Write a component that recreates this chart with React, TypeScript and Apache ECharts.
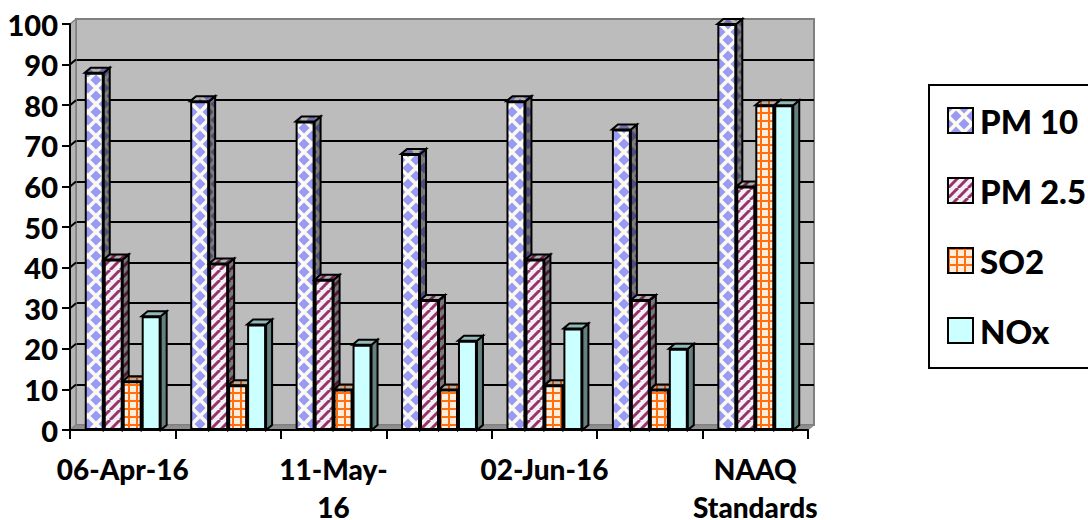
import React, { useEffect, useRef } from "react";
import * as echarts from "echarts";

const categories = ["06-Apr-16", "", "11-May-\n16", "", "02-Jun-16", "", "NAAQ\nStandards"];
const pm10 = [88, 81, 76, 68, 81, 74, 100];
const pm25 = [42, 41, 37, 32, 42, 32, 60];
const so2 = [12, 11, 10, 10, 11, 10, 80];
const nox = [28, 26, 21, 22, 25, 20, 80];
const seriesNames = ["PM 10", "PM 2.5", "SO2", "NOx"];
const seriesValues = [pm10, pm25, so2, nox];
const yTicks = { min: 0, max: 100, interval: 10 };

const FONT = "Lato";
const DX = 6;
const DY = 5;
const GAP = 0.28;

function shade(hex: string, k: number) {
  const n = parseInt(hex.slice(1), 16);
  const c = [(n >> 16) & 255, (n >> 8) & 255, n & 255].map((v) => Math.round(v * k));
  return `rgb(${c[0]},${c[1]},${c[2]})`;
}

function makePattern(kind: number, k: number) {
  const size = kind === 0 ? 16 : kind === 1 ? 10 : kind === 2 ? 8 : 4;
  const cv = document.createElement("canvas");
  cv.width = size;
  cv.height = size;
  const g = cv.getContext("2d")!;
  if (kind === 0) {
    g.fillStyle = shade("#fbfbf0", k);
    g.fillRect(0, 0, size, size);
    g.fillStyle = shade("#9a9af5", k);
    const diamond = (x: number, y: number, r: number) => {
      g.beginPath();
      g.moveTo(x - r, y);
      g.lineTo(x, y - r);
      g.lineTo(x + r, y);
      g.lineTo(x, y + r);
      g.closePath();
      g.fill();
    };
    diamond(8, 8, 5.5);
    [0, 16].forEach((x) => [0, 16].forEach((y) => diamond(x, y, 5.5)));
  } else if (kind === 1) {
    g.fillStyle = shade("#f0f0f6", k);
    g.fillRect(0, 0, size, size);
    g.strokeStyle = shade("#993366", k);
    g.lineWidth = 3;
    [-10, 0, 10, 20].forEach((o) => {
      g.beginPath();
      g.moveTo(o, 10);
      g.lineTo(o + 10, 0);
      g.stroke();
    });
  } else if (kind === 2) {
    g.fillStyle = shade("#ffeedd", k);
    g.fillRect(0, 0, size, size);
    g.fillStyle = shade("#ff7010", k);
    g.fillRect(0, 0, size, 2);
    g.fillRect(0, 0, 2, size);
  } else {
    g.fillStyle = shade("#ccffff", k);
    g.fillRect(0, 0, size, size);
  }
  return { image: cv, repeat: "repeat", imageWidth: size, imageHeight: size };
}

export default function App() {
  const ref = useRef<HTMLDivElement>(null);
  useEffect(() => {
    const chart = echarts.init(ref.current!, null, { renderer: "svg" });
    const series: any[] = [];

    series.push({
      type: "custom",
      name: "walls",
      silent: true,
      xAxisIndex: 0,
      yAxisIndex: 0,
      z: 1,
      data: [[0, 0]],
      renderItem: (params: any, api: any) => {
        const cs = params.coordSys;
        const bottom = cs.y + cs.height;
        const right = cs.x + cs.width;
        const children: any[] = [
          {
            type: "polygon",
            shape: { points: [[cs.x, bottom], [cs.x + DX, bottom - DY], [cs.x + DX, cs.y - DY], [cs.x, cs.y]] },
            style: { fill: "#b4b4b4", stroke: "#808080", lineWidth: 1.5 },
          },
          {
            type: "polygon",
            shape: { points: [[cs.x, bottom], [right, bottom], [right + DX, bottom - DY], [cs.x + DX, bottom - DY]] },
            style: { fill: "#8e8e8e", stroke: "#808080", lineWidth: 1 },
          },
        ];
        for (let v = yTicks.min + yTicks.interval; v <= yTicks.max - yTicks.interval; v += yTicks.interval) {
          const y = api.coord([0, v])[1];
          children.push({
            type: "line",
            shape: { x1: cs.x, y1: y, x2: cs.x + DX, y2: y - DY },
            style: { stroke: "#000", lineWidth: 2 },
          });
        }
        return { type: "group", children };
      },
    });

    seriesNames.forEach((name, s) => {
      const sideFill = makePattern(s, 0.5);
      const topFill = makePattern(s, 0.72);
      series.push({
        type: "custom",
        name: name + " depth",
        silent: true,
        xAxisIndex: 0,
        yAxisIndex: 0,
        z: 2 + s * 2,
        data: seriesValues[s].map((v, i) => [i, v]),
        encode: { x: 0, y: 1 },
        renderItem: (_p: any, api: any) => {
          const base = api.coord([api.value(0), 0]);
          const y = api.coord([api.value(0), api.value(1)])[1];
          const band = api.size([1, 0])[0];
          const w = (band * (1 - GAP)) / 4;
          const x = base[0] - 2 * w + s * w;
          const line = { stroke: "#000", lineWidth: 2, lineJoin: "miter" };
          return {
            type: "group",
            children: [
              {
                type: "polygon",
                shape: { points: [[x + w, y], [x + w + DX, y - DY], [x + w + DX, base[1] - DY], [x + w, base[1]]] },
                style: { fill: sideFill, ...line },
              },
              {
                type: "polygon",
                shape: { points: [[x, y], [x + DX, y - DY], [x + w + DX, y - DY], [x + w, y]] },
                style: { fill: topFill, ...line },
              },
            ],
          };
        },
      });
      series.push({
        type: "bar",
        name,
        xAxisIndex: 0,
        yAxisIndex: 0,
        z: 3 + s * 2,
        barGap: 0,
        barCategoryGap: GAP * 100 + "%",
        data: seriesValues[s],
        itemStyle: { color: makePattern(s, 1), borderColor: "#000", borderWidth: 2 },
      });
    });

    const labelStyle = { fontFamily: FONT, fontWeight: 900, color: "#000" };
    chart.setOption({
      animation: false,
      backgroundColor: "#fff",
      legend: {
        orient: "vertical",
        left: 929,
        top: 85,
        padding: [19, 20, 21, 18],
        itemGap: 37,
        itemWidth: 25,
        itemHeight: 25,
        icon: "rect",
        borderColor: "#000",
        borderWidth: 2,
        data: seriesNames,
        textStyle: { ...labelStyle, fontSize: 33, lineHeight: 25, padding: [0, 0, 0, 2] },
      },
      grid: [
        { left: 70, top: 24, width: 738, height: 406, outerBoundsMode: "none" },
        {
          left: 76,
          top: 19,
          width: 738,
          height: 406,
          outerBoundsMode: "none",
          show: true,
          backgroundColor: "#bcbcbc",
          borderColor: "#808080",
          borderWidth: 2,
        },
      ],
      xAxis: [
        {
          type: "category",
          gridIndex: 0,
          data: categories,
          z: 30,
          axisLine: { lineStyle: { color: "#000", width: 2 } },
          axisTick: { show: true, length: 9, alignWithLabel: false, lineStyle: { color: "#000", width: 2 } },
          axisLabel: {
            ...labelStyle,
            fontSize: 28,
            interval: 0,
            margin: 15,
            formatter: (v: string) => {
              if (!v) return "";
              const parts = v.split("\n");
              return parts.map((p, i) => `{${i === 0 ? "first" : "second"}|${p}}`).join("\n");
            },
            rich: {
              first: { ...labelStyle, fontSize: 28, lineHeight: 48 },
              second: { ...labelStyle, fontSize: 28, lineHeight: 27 },
            },
          },
        },
        { type: "category", gridIndex: 1, data: categories, show: false },
      ],
      yAxis: [
        {
          type: "value",
          gridIndex: 0,
          ...yTicks,
          z: 30,
          axisLine: { show: true, lineStyle: { color: "#000", width: 2 } },
          axisTick: { show: true, length: 8, lineStyle: { color: "#000", width: 2 } },
          axisLabel: { ...labelStyle, fontSize: 29, margin: 12 },
          splitLine: { show: false },
        },
        {
          type: "value",
          gridIndex: 1,
          ...yTicks,
          axisLine: { show: false },
          axisTick: { show: false },
          axisLabel: { show: false },
          splitLine: { show: true, showMinLine: false, showMaxLine: false, lineStyle: { color: "#000", width: 2 } },
        },
      ],
      series,
    });
    return () => chart.dispose();
  }, []);
  return <div ref={ref} style={{ position: "absolute", left: 0, top: 0, width: 1088, height: 520, overflow: "hidden" }} />;
}
